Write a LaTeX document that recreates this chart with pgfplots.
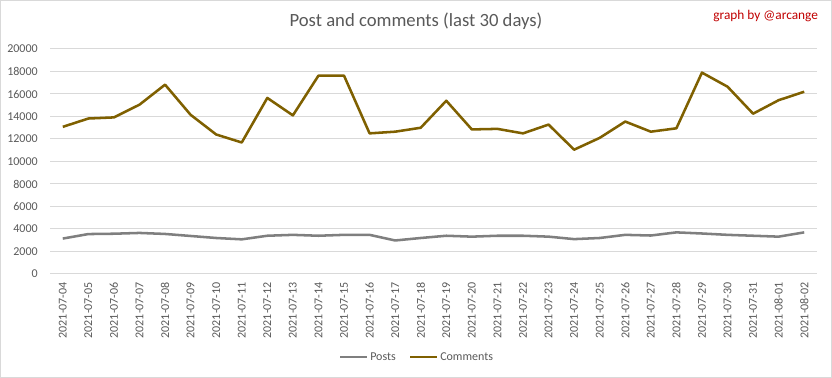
\documentclass[border=0pt]{standalone}
\usepackage{fontspec}
\setmainfont{Carlito}
\usepackage{pgfplots}
\pgfplotsset{compat=1.18}
\definecolor{txt}{HTML}{595959}
\definecolor{gridc}{HTML}{D9D9D9}
\definecolor{postc}{HTML}{7F7F7F}
\definecolor{commc}{HTML}{7F6000}
\definecolor{redc}{HTML}{C00000}
\begin{document}
\begin{tikzpicture}[x=1pt,y=1pt]
\useasboundingbox (0,0) rectangle (624,283.5);
\draw[gridc,line width=0.75pt] (0.4,0.4) rectangle (623.6,283.1);
\node[txt,font=\fontsize{14}{16}\selectfont] at (312,267.75) {Post and comments (last 30 days)};
\node[redc,font=\fontsize{10}{12}\selectfont,anchor=east] at (617,271.5) {graph by @arcange};
\begin{axis}[
  at={(37.5pt,78pt)}, anchor=south west,
  scale only axis, width=575.25pt, height=168.75pt,
  xmin=-0.5, xmax=29.5, ymin=0, ymax=20000,
  ytick={0,2000,...,20000},
  scaled y ticks=false,
  axis y line*=left, axis x line*=bottom,
  y axis line style={draw=none},
  x axis line style={gridc, line width=0.75pt, -},
  ymajorgrids, grid style={gridc, line width=0.75pt},
  major tick length=0pt,
  xtick={0,...,29},
  xticklabels={2021-07-04,2021-07-05,2021-07-06,2021-07-07,2021-07-08,2021-07-09,2021-07-10,2021-07-11,2021-07-12,2021-07-13,2021-07-14,2021-07-15,2021-07-16,2021-07-17,2021-07-18,2021-07-19,2021-07-20,2021-07-21,2021-07-22,2021-07-23,2021-07-24,2021-07-25,2021-07-26,2021-07-27,2021-07-28,2021-07-29,2021-07-30,2021-07-31,2021-08-01,2021-08-02},
  x tick label style={rotate=90, anchor=east, font=\fontsize{9}{10}\selectfont, text=txt, inner sep=0pt},
  xticklabel shift=6pt,
  y tick label style={font=\fontsize{9}{10}\selectfont, text=txt, inner sep=0pt},
  yticklabel style={/pgf/number format/fixed, /pgf/number format/1000 sep={}},
  /pgf/number format/assume math mode=true,
  yticklabel shift=9pt,
  clip=false,
]
\addplot[postc, line width=1.9pt, line join=round] coordinates {
(0,3150)(1,3550)(2,3580)(3,3650)(4,3560)(5,3380)(6,3200)(7,3080)(8,3400)(9,3480)(10,3400)(11,3480)(12,3480)(13,2980)(14,3200)(15,3400)(16,3320)(17,3400)(18,3400)(19,3320)(20,3100)(21,3200)(22,3480)(23,3420)(24,3700)(25,3600)(26,3480)(27,3400)(28,3320)(29,3700)};
\addplot[commc, line width=1.9pt, line join=round] coordinates {
(0,13080)(1,13820)(2,13920)(3,15050)(4,16830)(5,14150)(6,12400)(7,11690)(8,15650)(9,14100)(10,17630)(11,17630)(12,12500)(13,12650)(14,13000)(15,15400)(16,12850)(17,12900)(18,12500)(19,13280)(20,11050)(21,12100)(22,13550)(23,12650)(24,12950)(25,17900)(26,16650)(27,14250)(28,15450)(29,16200)};
\end{axis}
\node[anchor=west, txt, font=\fontsize{9}{10}\selectfont, inner sep=0pt] at (277.5,15.75) {Posts};
\draw[postc, line width=1.9pt] (255,15.75) -- (275.25,15.75);
\node[anchor=west, txt, font=\fontsize{9}{10}\selectfont, inner sep=0pt] at (330,15.75) {Comments};
\draw[commc, line width=1.9pt] (307.5,15.75) -- (327.75,15.75);
\end{tikzpicture}
\end{document}
